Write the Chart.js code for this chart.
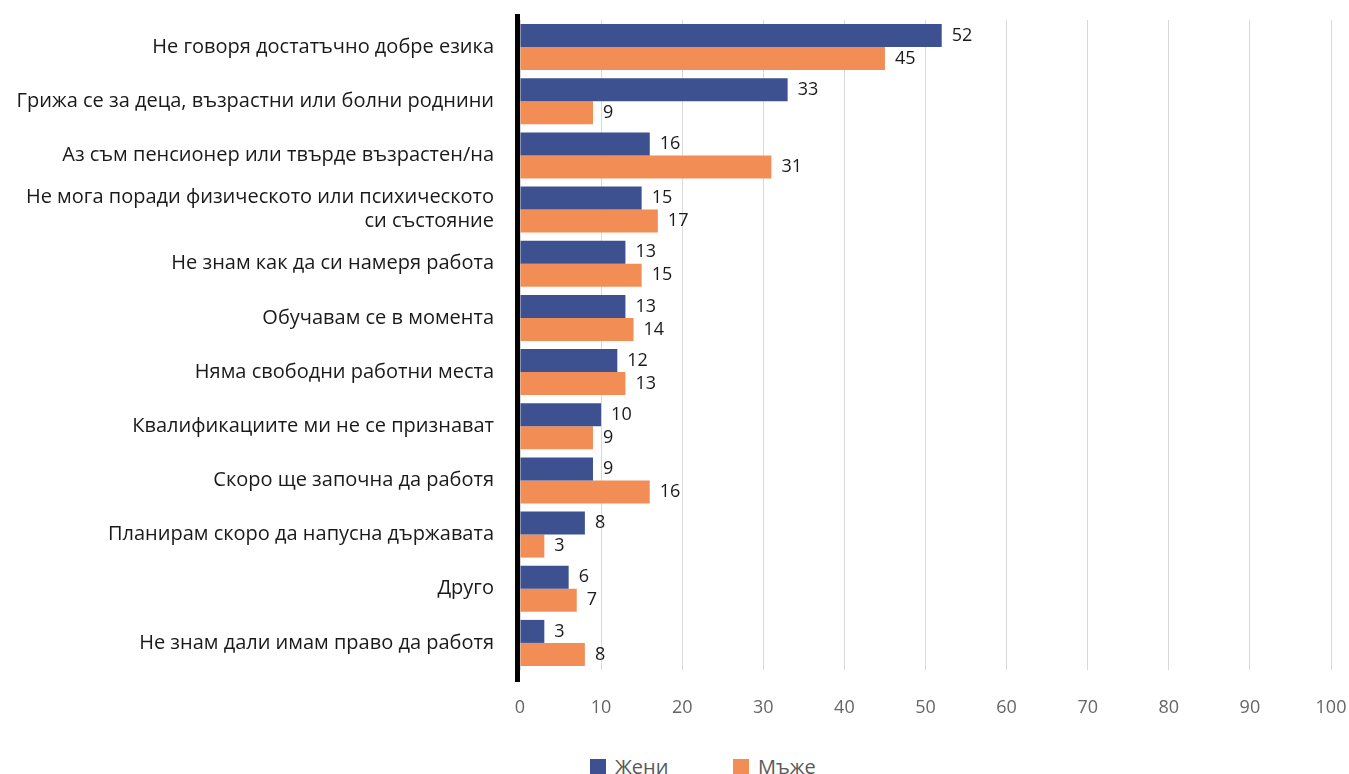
<!DOCTYPE html>
<html>
<head>
    <title>Причини да не работят</title>
    <script src="https://cdn.jsdelivr.net/npm/chart.js"></script>
    <style>
        body {
            margin: 0;
            background-color: #ffffff;
            font-family: "Open Sans", sans-serif;
        }
        .wrap {
            position: relative;
            width: 1349px;
            height: 774px;
        }
        .legend span.item {
            position: absolute;
            top: 753px;
            display: flex;
            align-items: center;
            color: #595959;
            font-size: 20px;
        }
        .legend i {
            display: inline-block;
            width: 16px;
            height: 16px;
            margin-right: 9px;
        }
    </style>
</head>
<body>
    <div class="wrap">
        <canvas id="reasonsChart" width="1349" height="750"></canvas>
        <div class="legend">
            <span class="item" style="left:590px"><i style="background:#3d5191"></i>Жени</span>
            <span class="item" style="left:733px"><i style="background:#f28e55"></i>Мъже</span>
        </div>
    </div>

    <script>
        // Data
        const categories = [
            'Не говоря достатъчно добре езика',
            'Грижа се за деца, възрастни или болни роднини',
            'Аз съм пенсионер или твърде възрастен/на',
            ['Не мога поради физическото или психическото', 'си състояние'],
            'Не знам как да си намеря работа',
            'Обучавам се в момента',
            'Няма свободни работни места',
            'Квалификациите ми не се признават',
            'Скоро ще започна да работя',
            'Планирам скоро да напусна държавата',
            'Друго',
            'Не знам дали имам право да работя'
        ];
        const women = [52, 33, 16, 15, 13, 13, 12, 10, 9, 8, 6, 3];
        const men = [45, 9, 31, 17, 15, 14, 13, 9, 16, 3, 7, 8];
        const xTicks = [0, 10, 20, 30, 40, 50, 60, 70, 80, 90, 100];

        // value labels at the end of each bar
        const barValues = {
            id: 'barValues',
            afterDatasetsDraw(chart) {
                const ctx = chart.ctx;
                ctx.save();
                ctx.font = '18px "Open Sans"';
                ctx.fillStyle = '#1a1a1a';
                ctx.textBaseline = 'middle';
                chart.data.datasets.forEach((ds, i) => {
                    chart.getDatasetMeta(i).data.forEach((bar, j) => {
                        ctx.fillText(ds.data[j], bar.x + 10, bar.y);
                    });
                });
                ctx.restore();
            }
        };

        // thick black y axis line, a bit longer than the plot area
        const axisLine = {
            id: 'axisLine',
            afterDraw(chart) {
                const a = chart.chartArea;
                const ctx = chart.ctx;
                ctx.save();
                ctx.fillStyle = '#000';
                ctx.fillRect(a.left - 5, a.top - 6, 5, a.bottom - a.top + 18);
                ctx.restore();
            }
        };

        const ctx = document.getElementById('reasonsChart').getContext('2d');
        new Chart(ctx, {
            type: 'bar',
            data: {
                labels: categories,
                datasets: [{
                    label: 'Жени',
                    data: women,
                    backgroundColor: '#3d5191'
                }, {
                    label: 'Мъже',
                    data: men,
                    backgroundColor: '#f28e55'
                }]
            },
            options: {
                indexAxis: 'y',
                responsive: false,
                animation: false,
                categoryPercentage: 0.85,
                barPercentage: 1,
                layout: {
                    padding: { top: 20, right: 18, bottom: 0, left: 0 }
                },
                scales: {
                    x: {
                        min: 0,
                        max: 100,
                        afterBuildTicks: (scale) => {
                            scale.ticks = xTicks.map(v => ({ value: v }));
                        },
                        afterFit: (scale) => {
                            scale.height = 80;
                            scale.paddingLeft = 0;
                            scale.paddingRight = 0;
                        },
                        grid: {
                            color: '#d9d9d9',
                            drawTicks: false
                        },
                        border: { display: false },
                        ticks: {
                            padding: 27,
                            color: '#666666',
                            font: { family: 'Open Sans', size: 18 }
                        }
                    },
                    y: {
                        afterFit: (scale) => {
                            scale.width = 520;
                            scale.paddingTop = 0;
                            scale.paddingBottom = 0;
                        },
                        grid: { display: false, drawTicks: false },
                        border: { display: false },
                        ticks: {
                            padding: 26,
                            color: '#1a1a1a',
                            font: { family: 'Open Sans', size: 20, lineHeight: 1.2 }
                        }
                    }
                },
                plugins: {
                    legend: { display: false },
                    tooltip: { enabled: false }
                }
            },
            plugins: [barValues, axisLine]
        });
    </script>
</body>
</html>
